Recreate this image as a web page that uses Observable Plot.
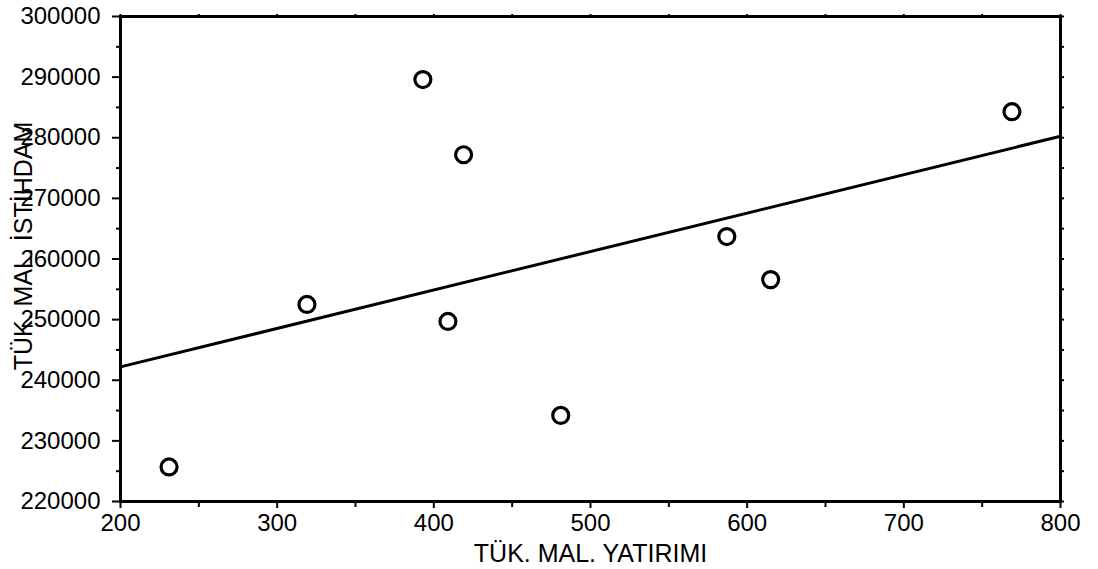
<!DOCTYPE html>
<html><head><meta charset="utf-8">
<script src="https://cdn.jsdelivr.net/npm/d3@7"></script>
<script src="https://cdn.jsdelivr.net/npm/@observablehq/plot@0.6"></script>
<style>body{margin:0;background:#fff}</style>
</head><body><div id="chart"></div>
<script>
const investment = [231, 319, 393, 419, 409, 481, 587, 615, 769];
const employment = [225700, 252500, 289600, 277200, 249700, 234200, 263700, 256600, 284300];
const xTicks = [200, 300, 400, 500, 600, 700, 800];
const xMinorTicks = [250, 350, 450, 550, 650, 750];
const yTicks = [220000, 230000, 240000, 250000, 260000, 270000, 280000, 290000, 300000];
const yMinorTicks = [225000, 235000, 245000, 255000, 265000, 275000, 285000, 295000];
const xLabel = "TÜK. MAL. YATIRIMI";
const yLabel = "TÜK. MAL. İSTİHDAM";
const xDomain = [200, 800];
const yDomain = [220000, 300000];

const points = investment.map((x, i) => ({x, y: employment[i]}));
const mx = d3.mean(investment), my = d3.mean(employment);
const slope = d3.sum(points, p => (p.x - mx) * (p.y - my)) / d3.sum(points, p => (p.x - mx) ** 2);
const fit = xDomain.map(x => ({x, y: my + slope * (x - mx)}));
const allY = [...yTicks, ...yMinorTicks].sort((a, b) => a - b);
const allX = [...xTicks, ...xMinorTicks].sort((a, b) => a - b);

const chart = Plot.plot({
  width: 1098,
  height: 569,
  marginLeft: 120,
  marginRight: 38,
  marginTop: 16,
  marginBottom: 68,
  style: {fontFamily: "'Liberation Sans', Arial, sans-serif", fontSize: "24px", color: "black", background: "white"},
  x: {domain: xDomain},
  y: {domain: yDomain},
  marks: [
    Plot.axisX({anchor: "bottom", ticks: xTicks, tickSize: 7, tickPadding: 5, strokeWidth: 2, label: null}),
    Plot.axisX({anchor: "bottom", ticks: xMinorTicks, tickSize: 6, strokeWidth: 2, tickFormat: () => "", label: null}),
    Plot.axisX({anchor: "top", ticks: allX, tickSize: 3, strokeWidth: 2, tickFormat: () => "", label: null}),
    Plot.axisY({anchor: "left", ticks: yTicks, tickSize: 8, tickPadding: 12, strokeWidth: 2, tickFormat: d3.format("d"), label: null}),
    Plot.axisY({anchor: "left", ticks: yMinorTicks, tickSize: 4, strokeWidth: 2, tickFormat: () => "", label: null}),
    Plot.axisY({anchor: "right", ticks: allY, tickSize: 3, strokeWidth: 2, tickFormat: () => "", label: null}),
    Plot.frame({stroke: "black", strokeWidth: 3}),
    Plot.line(fit, {x: "x", y: "y", stroke: "black", strokeWidth: 3}),
    Plot.dot(points, {x: "x", y: "y", r: 8, stroke: "black", strokeWidth: 3.2, fill: "white"}),
    Plot.text([xLabel], {frameAnchor: "bottom", textAnchor: "middle", lineAnchor: "bottom", text: d => d, dy: 60, fontSize: 25, fill: "black"}),
    Plot.text([yLabel], {frameAnchor: "left", textAnchor: "middle", lineAnchor: "middle", text: d => d, rotate: -90, dx: -97, dy: -13, fontSize: 25, fill: "black"})
  ]
});
document.getElementById("chart").append(chart);
</script>
</body></html>
